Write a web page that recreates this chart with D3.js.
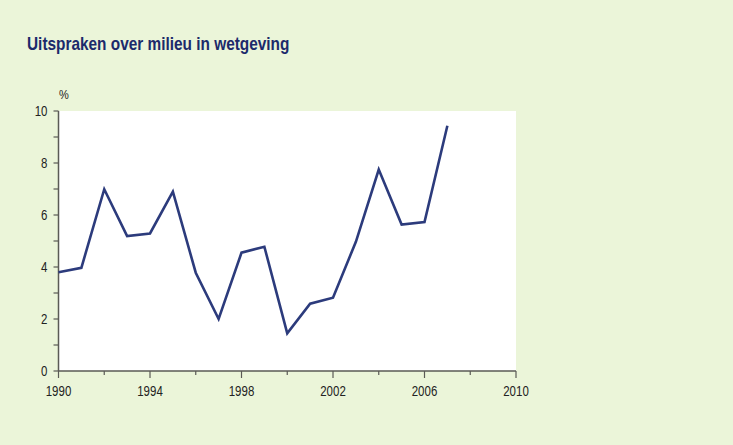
<!DOCTYPE html>
<html><head><meta charset="utf-8">
<script src="https://cdn.jsdelivr.net/npm/d3@7"></script>
<style>html,body{margin:0;padding:0;background:#ebf5d9;}</style>
</head><body>
<svg id="c" width="733" height="445"></svg>
<script>
const years = [1990,1991,1992,1993,1994,1995,1996,1997,1998,1999,2000,2001,2002,2003,2004,2005,2006,2007];
const values = [3.8,3.97,6.99,5.19,5.29,6.9,3.78,2.0,4.55,4.78,1.45,2.59,2.82,4.97,7.75,5.63,5.73,9.43];
const xTickLabels = [1990,1994,1998,2002,2006,2010];
const yTickLabels = [0,2,4,6,8,10];
const title = "Uitspraken over milieu in wetgeving";
const unit = "%";

const svg = d3.select("#c");
svg.append("rect").attr("width",733).attr("height",445).attr("fill","#ebf5d9");
const x = d3.scaleLinear().domain([1990,2010]).range([58.5,516]);
const y = d3.scaleLinear().domain([0,10]).range([371,111]);

svg.append("rect").attr("x",x(1990)).attr("y",y(10)).attr("width",x(2010)-x(1990)).attr("height",y(0)-y(10)).attr("fill","#ffffff");

const font = "'Liberation Sans', Arial, sans-serif";
svg.append("text").attr("transform","translate(27,50) scale(0.855,1)").text(title)
  .attr("font-family",font).attr("font-size",18).attr("font-weight","bold").attr("fill","#1b2a6b");

const axisCol = "#5a5a55";
const sx = 0.82;
// y axis
const yMinor = d3.range(0,11,1);
svg.append("line").attr("x1",x(1990)).attr("x2",x(1990)).attr("y1",y(0)).attr("y2",y(10)).attr("stroke",axisCol).attr("stroke-width",1.5);
svg.selectAll(".ym").data(yMinor).enter().append("line")
  .attr("x1",x(1990)-5).attr("x2",x(1990)).attr("y1",d=>y(d)).attr("y2",d=>y(d)).attr("stroke",axisCol).attr("stroke-width",1.2);
svg.selectAll(".yl").data(yTickLabels).enter().append("text")
  .attr("transform",d=>`translate(${x(1990)-11},${y(d)+5}) scale(${sx},1)`).attr("text-anchor","end").text(d=>d)
  .attr("font-family",font).attr("font-size",14).attr("fill","#222");
svg.append("text").attr("transform","translate(64,99) scale(0.85,1)").attr("text-anchor","middle").text(unit)
  .attr("font-family",font).attr("font-size",13).attr("fill","#222");
// x axis
svg.append("line").attr("x1",x(1990)).attr("x2",x(2010)).attr("y1",y(0)).attr("y2",y(0)).attr("stroke",axisCol).attr("stroke-width",1.5);
const xMinor = d3.range(1990,2011,2);
svg.selectAll(".xm").data(xMinor).enter().append("line")
  .attr("x1",d=>x(d)).attr("x2",d=>x(d)).attr("y1",y(0)).attr("y2",d=>y(0)+((d-1990)%4===0?7:4)).attr("stroke",axisCol).attr("stroke-width",1.2);
svg.selectAll(".xl").data(xTickLabels).enter().append("text")
  .attr("transform",d=>`translate(${x(d)},${y(0)+25}) scale(${sx},1)`).attr("text-anchor","middle").text(d=>d)
  .attr("font-family",font).attr("font-size",14).attr("fill","#222");

const line = d3.line().x((d,i)=>x(years[i])).y(d=>y(d));
svg.append("path").datum(values).attr("d",line).attr("fill","none").attr("stroke","#2c3b7c").attr("stroke-width",2.6).attr("stroke-linejoin","miter");
</script>
</body></html>
